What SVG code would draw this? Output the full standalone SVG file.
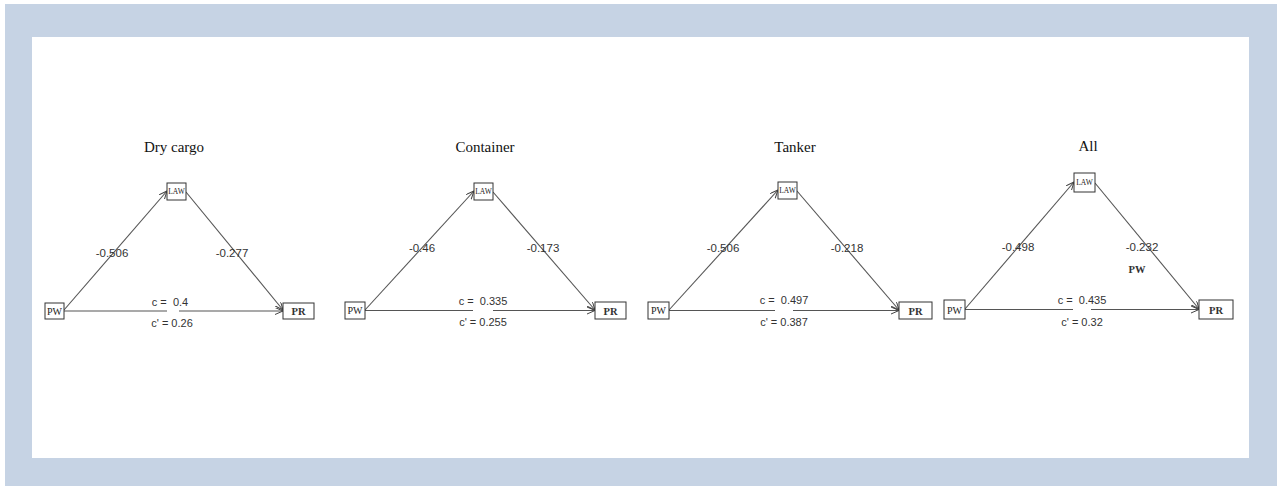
<svg xmlns="http://www.w3.org/2000/svg" width="1277" height="486" viewBox="0 0 1277 486">
<style>
.node rect{fill:#fff;stroke:#333;stroke-width:1}
.nt{font-family:"Liberation Serif",serif;font-size:10px;fill:#222;text-anchor:middle}
.pt{font-family:"Liberation Serif",serif;font-size:10.5px;font-weight:bold;fill:#333;text-anchor:middle}
.lt{font-family:"Liberation Serif",serif;font-size:7.5px;fill:#222;text-anchor:middle}
.title{font-family:"Liberation Serif",serif;font-size:15px;fill:#111;text-anchor:middle}
.lab{font-family:"Liberation Sans",Arial,sans-serif;font-size:11.5px;fill:#333;text-anchor:middle}
.cl{font-family:"Liberation Sans",Arial,sans-serif;font-size:11px;fill:#333;text-anchor:middle;white-space:pre}
#connectors line{stroke:#555;stroke-width:1.1;fill:none}
.ar{marker-end:url(#arr)}
</style>
<defs>
<marker id="arr" markerWidth="9" markerHeight="8" refX="8" refY="3.5" orient="auto" markerUnits="userSpaceOnUse">
<path d="M0,0 L8,3.5 L0,7" fill="none" stroke="#444" stroke-width="1"/>
</marker>
</defs>
<rect x="0" y="0" width="1277" height="486" fill="#fff"/>
<rect x="5" y="4" width="1272" height="482" fill="#c6d3e4"/>
<rect x="32" y="37" width="1217" height="421" fill="#fff"/>

<g id="connectors">
<line class="ar" x1="64" y1="310" x2="167" y2="191"/>
<line class="ar" x1="186" y1="192" x2="283" y2="310"/>
<line x1="64" y1="311" x2="167" y2="311"/>
<line class="ar" x1="179" y1="311" x2="283" y2="311"/>

<line class="ar" x1="365" y1="310" x2="474" y2="191"/>
<line class="ar" x1="493" y1="192" x2="595" y2="310"/>
<line x1="365" y1="310.5" x2="473" y2="310.5"/>
<line class="ar" x1="493" y1="310.5" x2="595" y2="310.5"/>

<line class="ar" x1="669" y1="310" x2="778" y2="190"/>
<line class="ar" x1="797" y1="191" x2="899" y2="310"/>
<line x1="669" y1="310.5" x2="775" y2="310.5"/>
<line class="ar" x1="793" y1="310.5" x2="899" y2="310.5"/>

<line class="ar" x1="965" y1="309" x2="1074" y2="182"/>
<line class="ar" x1="1095" y1="183" x2="1199" y2="309"/>
<line x1="965" y1="309.5" x2="1073" y2="309.5"/>
<line class="ar" x1="1091" y1="309.5" x2="1199" y2="309.5"/>
</g>

<g id="panel-drycargo">
<text class="title" x="174" y="152">Dry cargo</text>
<text class="lab" x="112" y="257">-0.506</text>
<text class="lab" x="232" y="257">-0.277</text>
<text class="cl" x="170" y="306" xml:space="preserve">c =  0.4</text>
<text class="cl" x="172" y="327">c' = 0.26</text>
</g>
<g id="dc-pw" class="node"><rect x="45" y="303" width="19" height="16"/><text class="nt" x="54.5" y="314.5">PW</text></g>
<g id="dc-law" class="node"><rect x="167" y="183" width="19" height="17"/><text class="lt" x="176.5" y="194">LAW</text></g>
<g id="dc-pr" class="node"><rect x="283" y="303" width="31" height="16"/><text class="pt" x="298.5" y="315">PR</text></g>

<g id="panel-container">
<text class="title" x="485" y="152">Container</text>
<text class="lab" x="422" y="252">-0.46</text>
<text class="lab" x="543" y="252">-0.173</text>
<text class="cl" x="483" y="305" xml:space="preserve">c =  0.335</text>
<text class="cl" x="483" y="326">c' = 0.255</text>
</g>
<g id="ct-pw" class="node"><rect x="345" y="302" width="20" height="17"/><text class="nt" x="355" y="314">PW</text></g>
<g id="ct-law" class="node"><rect x="474" y="183" width="19" height="17"/><text class="lt" x="483.5" y="194">LAW</text></g>
<g id="ct-pr" class="node"><rect x="595" y="302" width="31" height="17"/><text class="pt" x="610.5" y="314.5">PR</text></g>

<g id="panel-tanker">
<text class="title" x="795" y="152">Tanker</text>
<text class="lab" x="723" y="252">-0.506</text>
<text class="lab" x="847" y="252">-0.218</text>
<text class="cl" x="784" y="304" xml:space="preserve">c =  0.497</text>
<text class="cl" x="784" y="326">c' = 0.387</text>
</g>
<g id="tk-pw" class="node"><rect x="648" y="302" width="21" height="17"/><text class="nt" x="658.5" y="314">PW</text></g>
<g id="tk-law" class="node"><rect x="778" y="182" width="19" height="17"/><text class="lt" x="787.5" y="193">LAW</text></g>
<g id="tk-pr" class="node"><rect x="899" y="302" width="33" height="17"/><text class="pt" x="915.5" y="314.5">PR</text></g>

<g id="panel-all">
<text class="title" x="1088" y="151">All</text>
<text class="lab" x="1018" y="251">-0.498</text>
<text class="lab" x="1142" y="251">-0.232</text>
<text class="pt" x="1137" y="273">PW</text>
<text class="cl" x="1082" y="304" xml:space="preserve">c =  0.435</text>
<text class="cl" x="1082" y="326">c' = 0.32</text>
</g>
<g id="al-pw" class="node"><rect x="944" y="300" width="21" height="19"/><text class="nt" x="954.5" y="313.5">PW</text></g>
<g id="al-law" class="node"><rect x="1074" y="173" width="21" height="19"/><text class="lt" x="1084.5" y="185">LAW</text></g>
<g id="al-pr" class="node"><rect x="1199" y="300" width="34" height="19"/><text class="pt" x="1216" y="313.5">PR</text></g>
</svg>
